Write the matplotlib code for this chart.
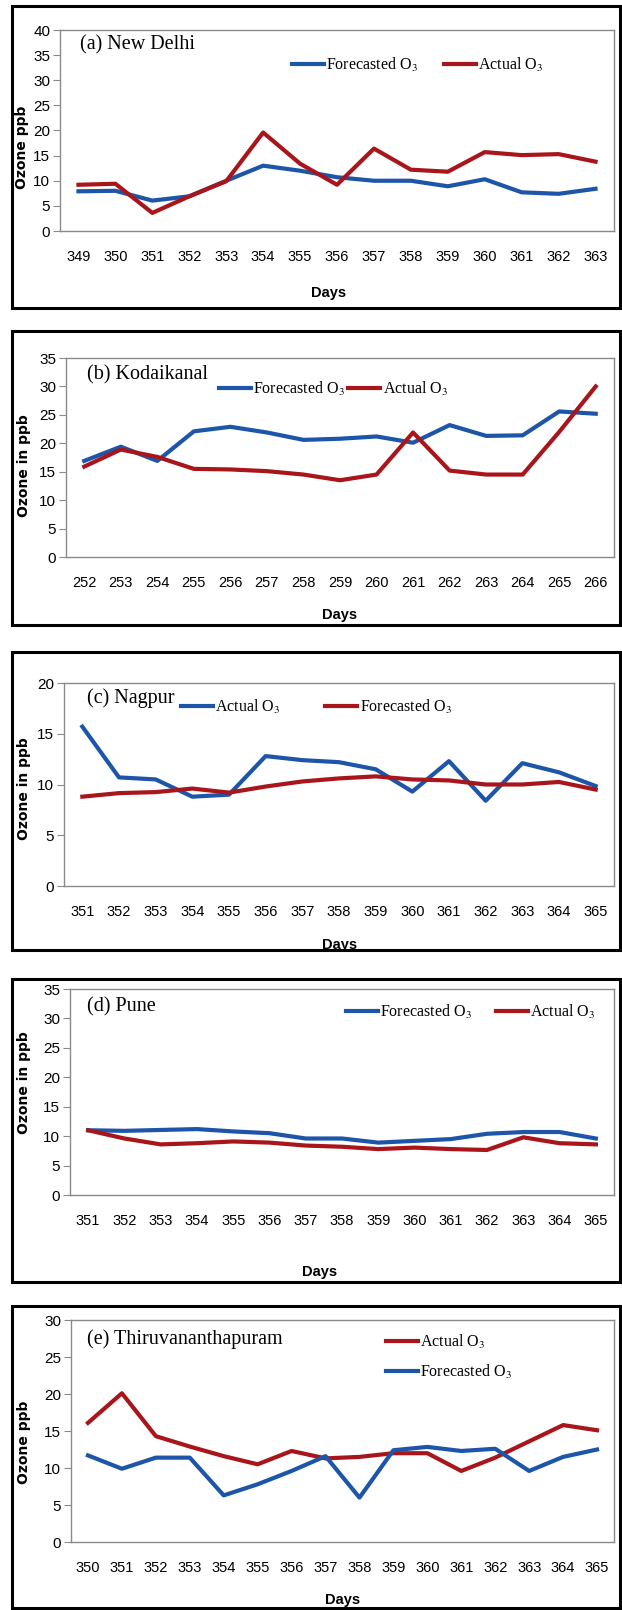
import matplotlib.pyplot as plt
from matplotlib.patches import Rectangle

plt.rcParams['mathtext.fontset'] = 'stix'

BLUE = '#1d56a8'
RED = '#a8151b'

# ---- data ----
days_delhi = list(range(349, 364))
delhi_forecast = [7.9, 8.0, 6.05, 6.9, 10.0, 13.0, 12.0, 10.7, 10.0, 10.0, 8.9, 10.3, 7.7, 7.4, 8.4]
delhi_actual = [9.2, 9.4, 3.6, 6.9, 9.9, 19.6, 13.4, 9.2, 16.4, 12.2, 11.8, 15.7, 15.1, 15.3, 13.8]

days_kodai = list(range(252, 267))
kodai_forecast = [16.9, 19.4, 16.9, 22.1, 22.9, 21.9, 20.6, 20.8, 21.2, 20.1, 23.2, 21.3, 21.4, 25.6, 25.2]
kodai_actual = [15.9, 18.9, 17.6, 15.5, 15.4, 15.1, 14.5, 13.5, 14.5, 21.9, 15.2, 14.5, 14.5, 22.0, 30.0]

days_nagpur = list(range(351, 366))
nagpur_actual = [15.7, 10.7, 10.5, 8.8, 9.0, 12.8, 12.4, 12.2, 11.5, 9.3, 12.3, 8.4, 12.1, 11.2, 9.85]
nagpur_forecast = [8.8, 9.15, 9.25, 9.6, 9.2, 9.8, 10.3, 10.6, 10.8, 10.5, 10.4, 10.0, 10.0, 10.25, 9.5]

days_pune = list(range(351, 366))
pune_forecast = [11.0, 10.9, 11.05, 11.2, 10.8, 10.5, 9.6, 9.6, 8.9, 9.2, 9.5, 10.4, 10.7, 10.7, 9.6]
pune_actual = [11.0, 9.6, 8.6, 8.8, 9.1, 8.9, 8.4, 8.2, 7.8, 8.05, 7.8, 7.65, 9.8, 8.8, 8.6]

days_tvm = list(range(350, 366))
tvm_actual = [16.1, 20.1, 14.3, 12.9, 11.6, 10.5, 12.3, 11.3, 11.5, 12.0, 12.0, 9.6, 11.4, 13.6, 15.8, 15.1]
tvm_forecast = [11.7, 9.9, 11.4, 11.4, 6.3, 7.8, 9.6, 11.6, 6.0, 12.4, 12.85, 12.3, 12.6, 9.6, 11.5, 12.5]

W, H = 622, 1610
fig = plt.figure(figsize=(W / 100, H / 100), dpi=100)


def fx(px):
    return px / W


def fy(py):
    return 1 - py / H


def panel(box, plot, title, title_xy, ylab, ylab_xy, days_xy, days, series,
          ymax, ystep, leg_xy, leg_ncol, colspace):
    # outer black frame
    x0, y0, x1, y1 = box
    fig.patches.append(Rectangle((fx(x0), fy(y1)), fx(x1 - x0), (y1 - y0) / H,
                                 transform=fig.transFigure, fill=False,
                                 edgecolor='black', linewidth=2.2))
    l, t, r, b = plot
    ax = fig.add_axes([fx(l), fy(b), fx(r - l), (b - t) / H])
    n = len(days)
    xs = list(range(n))
    handles = []
    for vals, col, lab in series:
        h, = ax.plot(xs, vals, color=col, lw=3.0, solid_joinstyle='round', label=lab)
        handles.append(h)
    ax.set_xlim(-0.5, n - 0.5)
    ax.set_ylim(0, ymax)
    ax.set_yticks(range(0, ymax + 1, ystep))
    ax.set_xticks(xs)
    ax.set_xticklabels([str(d) for d in days])
    for sp in ax.spines.values():
        sp.set_color('#8a8a8a')
        sp.set_linewidth(1.0)
    ax.tick_params(axis='x', length=0, pad=14, labelsize=10.5)
    ax.tick_params(axis='y', length=5, color='#8a8a8a', pad=2, labelsize=11)
    for lbl in ax.get_xticklabels() + ax.get_yticklabels():
        lbl.set_family('Liberation Sans')
    fig.text(fx(title_xy[0]), fy(title_xy[1]), title, family='Liberation Serif',
             fontsize=14.5, ha='left', va='center')
    fig.text(fx(ylab_xy[0]), fy(ylab_xy[1]), ylab, family='DejaVu Sans',
             fontweight='bold', fontsize=10, rotation=90, ha='center', va='center')
    fig.text(fx(days_xy[0]), fy(days_xy[1]), 'Days', family='Liberation Sans',
             fontweight='bold', fontsize=10.5, ha='center', va='center')
    lx = (leg_xy[0] - l) / (r - l)
    ly = 1 - (leg_xy[1] - t) / (b - t)
    ax.legend(handles=handles, loc='center left', bbox_to_anchor=(lx, ly),
              ncol=leg_ncol, frameon=False, borderpad=0, borderaxespad=0,
              handlelength=2.0, handletextpad=0.15, columnspacing=colspace,
              labelspacing=0.75,
              prop={'family': 'Liberation Serif', 'size': 11.5})
    return ax


fc = 'Forecasted O$_3$'
ac = 'Actual O$_3$'

panel((12, 6, 620, 308), (60, 30, 614, 231), '(a) New Delhi', (80, 45),
      'Ozone ppb', (22, 147), (329, 293), days_delhi,
      [(delhi_forecast, BLUE, fc), (delhi_actual, RED, ac)],
      40, 5, (292, 65), 2, 1.6)

panel((12, 331, 620, 625), (66, 358, 614, 557), '(b) Kodaikanal', (87, 375),
      'Ozone in ppb', (24, 466), (340, 615), days_kodai,
      [(kodai_forecast, BLUE, fc), (kodai_actual, RED, ac)],
      35, 5, (219, 389), 2, 0.2)

panel((12, 652, 620, 950), (64, 683, 614, 886), '(c) Nagpur', (87, 698),
      'Ozone in ppb', (24, 789), (340, 945), days_nagpur,
      [(nagpur_actual, BLUE, ac), (nagpur_forecast, RED, fc)],
      20, 5, (181, 707), 2, 2.8)

panel((12, 979, 620, 1282), (70, 989, 614, 1195), '(d) Pune', (87, 1007),
      'Ozone in ppb', (24, 1083), (320, 1272), days_pune,
      [(pune_forecast, BLUE, fc), (pune_actual, RED, ac)],
      35, 5, (346, 1012), 2, 1.5)

panel((12, 1306, 620, 1608), (71, 1320, 614, 1542), '(e) Thiruvananthapuram', (87, 1339),
      'Ozone ppb', (24, 1442), (343, 1600), days_tvm,
      [(tvm_actual, RED, ac), (tvm_forecast, BLUE, fc)],
      30, 5, (386, 1357), 1, 1.0)

fig.savefig('out.png', dpi=100)
